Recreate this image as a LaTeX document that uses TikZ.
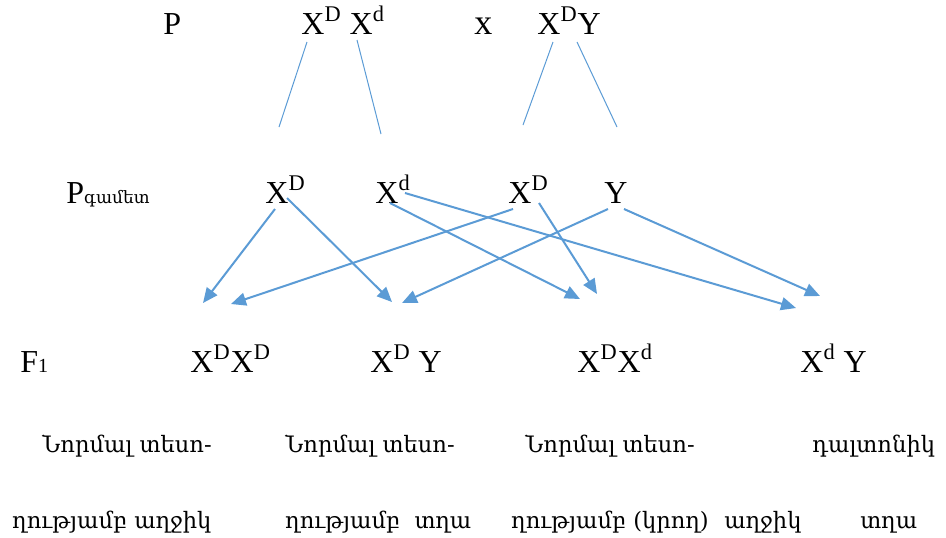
\documentclass[tikz,border=0pt]{standalone}
\usepackage{fontspec}
\setmainfont{Liberation Serif}
\newfontfamily\armfont{DejaVu Serif}
\usetikzlibrary{arrows.meta}
\definecolor{genblue}{HTML}{5B9BD5}

\begin{document}
\begin{tikzpicture}[x=0.5pt, y=-0.5pt,
  lbl/.style={anchor=base west, inner sep=0pt, font=\fontsize{16}{18}\selectfont},
  arm/.style={anchor=base west, inner sep=0pt, font=\armfont\fontsize{11.3}{13}\selectfont},
  link/.style={genblue, line width=0.5pt},
  arr/.style={-{Triangle[length=7.5pt, width=6.5pt]}, genblue, line width=1pt}
]
\useasboundingbox (0,0) rectangle (946,537);

% parents
\node[lbl] (p) at (163,34) {P};
\node[lbl] (mom) at (301,34) {X\textsuperscript{D} X\textsuperscript{d}};
\node[lbl] (cross) at (474,34) {\fontsize{18}{20}\selectfont x};
\node[lbl] (dad) at (537,34) {X\textsuperscript{D}Y};

% gametes
\node[lbl] (pg) at (66,203) {P{\armfont\fontsize{8.5}{10}\selectfont գամետ}};
\node[lbl] (g1) at (265,203) {X\textsuperscript{D}};
\node[lbl] (g2) at (375,203) {X\textsuperscript{d}};
\node[lbl] (g3) at (508,203) {X\textsuperscript{D}};
\node[lbl] (g4) at (604,203) {Y};

% offspring
\node[lbl] (f1) at (20,372) {F{\fontsize{10}{12}\selectfont 1}};
\node[lbl] (c1) at (190,372) {X\textsuperscript{D}X\textsuperscript{D}};
\node[lbl] (c2) at (370,372) {X\textsuperscript{D} Y};
\node[lbl] (c3) at (577,372) {X\textsuperscript{D}X\textsuperscript{d}};
\node[lbl] (c4) at (800,372) {X\textsuperscript{d} Y};

% phenotypes
\node[arm] (t1) at (42,452) {Նորմալ տեսո-};
\node[arm] (t2) at (285,452) {Նորմալ տեսո-};
\node[arm] (t3) at (525,452) {Նորմալ տեսո-};
\node[arm] (t4) at (812,452) {դալտոնիկ};
\node[arm] (b1) at (12,528) {ղությամբ աղջիկ};
\node[arm] (b2) at (285,528) {ղությամբ\ \ տղա};
\node[arm] (b3) at (511,528) {ղությամբ (կրող)};
\node[arm] (b4) at (724,528) {աղջիկ};
\node[arm] (b5) at (860,528) {տղա};

% meiosis lines
\coordinate (m1) at (307,42);
\coordinate (m2) at (357,40);
\coordinate (d1) at (553,42);
\coordinate (d2) at (577,42);
\coordinate (m1e) at (279,127);
\coordinate (m2e) at (381,134);
\coordinate (d1e) at (523,125);
\coordinate (d2e) at (617,127);
\draw[link] (m1) -- (m1e);
\draw[link] (m2) -- (m2e);
\draw[link] (d1) -- (d1e);
\draw[link] (d2) -- (d2e);

% fertilisation arrows
\coordinate (s1a) at (275,209);
\coordinate (s1b) at (287,198);
\coordinate (s2a) at (390,203);
\coordinate (s2b) at (405,193);
\coordinate (s3a) at (513,209);
\coordinate (s3b) at (539,203);
\coordinate (s4a) at (608,209);
\coordinate (s4b) at (624,209);
\coordinate (e1) at (203,303);
\coordinate (e2) at (231,304);
\coordinate (e3) at (392,302);
\coordinate (e4) at (402,303);
\coordinate (e5) at (580,299);
\coordinate (e6) at (597,294);
\coordinate (e7) at (796,308);
\coordinate (e8) at (820,296);
\draw[arr] (s1a) -- (e1);
\draw[arr] (s1b) -- (e3);
\draw[arr] (s2a) -- (e5);
\draw[arr] (s2b) -- (e7);
\draw[arr] (s3a) -- (e2);
\draw[arr] (s3b) -- (e6);
\draw[arr] (s4a) -- (e4);
\draw[arr] (s4b) -- (e8);
\end{tikzpicture}
\end{document}
